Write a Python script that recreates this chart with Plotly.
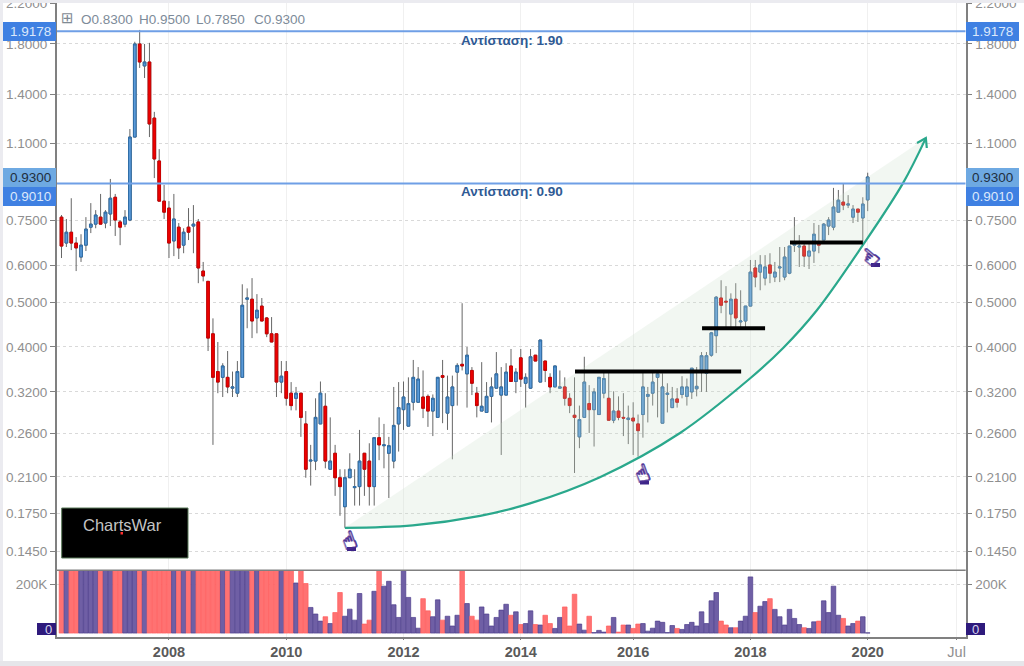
import math
import plotly.graph_objects as go

W, H = 1024, 666

months = list(range(166))
opens = [.762,.670,.707,.670,.625,.663,.725,.736,.762,.740,.774,.841,.744,.736,.751,1.134,1.80,1.614,1.646,1.246,1.007,.825,.797,.677,.725,.663,.725,.729,.744,.583,
 .554,.427,.354,.344,.344,.326,.318,.344,.507,.507,.462,.490,.462,.427,.427,.336,.354,.318,.310,.318,.273,.227,.227,.273,.298,.218,.236,.209,.181,.209,
 .199,.200,.236,.227,.200,.255,.245,.236,.227,.273,.293,.270,.304,.304,.312,.313,.291,.282,.347,.288,.299,.353,.367,.350,.356,.318,.291,.289,.313,.326,
 .315,.315,.364,.337,.379,.334,.326,.384,.336,.373,.344,.328,.326,.328,.310,.285,.256,.282,.302,.293,.286,.318,.310,.278,.291,.282,.279,.281,.273,.286,
 .313,.318,.344,.274,.316,.296,.309,.316,.313,.320,.325,.353,.351,.384,.423,.510,.502,.471,.507,.453,.455,.490,.592,.580,.563,.601,.566,.592,.566,.577,
 .663,.657,.660,.628,.644,.673,.680,.729,.725,.781,.821,.809,.762,.793,.759,.83]
closes = [.660,.707,.670,.654,.663,.718,.736,.770,.736,.781,.837,.751,.725,.762,1.134,1.80,1.646,1.646,1.21,1.017,.825,.781,.670,.755,.654,.707,.707,.736,.592,.569,
 .418,.344,.336,.364,.328,.328,.354,.492,.510,.455,.480,.455,.427,.410,.336,.346,.310,.299,.318,.282,.218,.228,.282,.318,.227,.227,.209,.200,.209,.218,
 .200,.227,.218,.200,.255,.246,.246,.245,.271,.296,.312,.302,.344,.341,.295,.291,.310,.344,.344,.312,.328,.365,.364,.384,.334,.299,.298,.313,.328,.350,
 .328,.353,.337,.353,.341,.344,.381,.373,.414,.356,.328,.364,.328,.310,.299,.282,.279,.336,.293,.320,.344,.342,.278,.291,.282,.281,.281,.277,.264,.328,
 .316,.336,.350,.328,.318,.309,.304,.328,.328,.360,.329,.383,.383,.429,.512,.492,.500,.507,.462,.455,.490,.580,.566,.601,.595,.577,.580,.595,.625,.660,
 .670,.660,.628,.644,.700,.663,.736,.751,.801,.829,.809,.813,.793,.781,.813,.93]
highs = [.770,.755,.837,.690,.700,.762,.817,.789,.855,.789,.921,.855,.751,.789,1.18,1.82,1.93,1.80,1.81,1.285,1.068,.894,.825,.855,.740,.721,.797,.809,.755,.610,
 .554,.461,.410,.369,.392,.354,.373,.546,.535,.563,.520,.510,.464,.464,.427,.373,.373,.336,.328,.318,.291,.246,.310,.337,.318,.282,.246,.218,.218,.236,
 .218,.265,.236,.248,.255,.282,.273,.256,.328,.336,.337,.344,.375,.362,.356,.316,.316,.344,.375,.347,.347,.369,.497,.400,.362,.328,.371,.336,.344,.390,
 .362,.369,.396,.360,.396,.351,.396,.384,.414,.373,.351,.364,.356,.344,.318,.344,.299,.381,.331,.326,.344,.353,.353,.321,.313,.318,.299,.304,.286,.353,
 .328,.353,.353,.351,.334,.328,.326,.346,.342,.360,.362,.390,.390,.431,.515,.557,.541,.522,.549,.530,.490,.616,.616,.631,.631,.637,.610,.657,.657,.660,
 .762,.697,.670,.667,.740,.733,.740,.762,.881,.872,.902,.850,.809,.793,.841,.95]
lows = [.622,.657,.647,.583,.610,.644,.704,.721,.736,.721,.729,.694,.663,.725,.747,1.134,1.598,1.52,1.134,.925,.825,.755,.622,.628,.619,.637,.680,.637,.549,.554,
 .392,.246,.318,.312,.318,.312,.312,.344,.439,.418,.428,.455,.420,.410,.312,.318,.299,.292,.292,.256,.209,.201,.217,.273,.219,.218,.191,.173,.163,.209,
 .182,.182,.191,.182,.182,.228,.219,.189,.219,.238,.265,.270,.292,.304,.281,.269,.257,.282,.274,.265,.229,.299,.356,.296,.315,.282,.291,.289,.275,.326,
 .234,.315,.337,.318,.328,.296,.325,.373,.336,.336,.318,.328,.326,.299,.288,.214,.242,.282,.261,.244,.286,.310,.278,.274,.278,.257,.247,.234,.232,.255,
 .275,.299,.282,.274,.289,.296,.296,.310,.299,.309,.313,.320,.320,.381,.388,.473,.441,.441,.441,.441,.441,.490,.538,.530,.543,.549,.552,.552,.557,.574,
 .641,.595,.595,.589,.607,.637,.680,.697,.714,.781,.789,.797,.740,.744,.663,.785]
volumes = [300]*38 + [252]*1 + [300]*9 + [205,300,203,105,78,49,67,39,84,166,69,98,53,162,37,53,171,300,192,212,116,64,300,146,64,20,141,91,67,136,53,69,29,73,300,121,69,53,107,78,29,64,94,118,73,87,35,39,91,35,33,73,39,19,64,107,29,159,37,12,69,2,11,4,29,64,4,33,33,19,37,39,8,20,49,44,2,31,19,
 15,35,44,29,87,39,132,166,49,33,22,22,49,69,230,84,110,129,141,97,67,33,97,60,35,22,19,46,49,132,84,192,73,60,29,39,49,67,1]

year_ticks = [22, 46, 70, 94, 117, 141, 165, 183.2]
year_labels = ["2008", "2010", "2012", "2014", "2016", "2018", "2020", "Jul"]
price_ticks = [2.2, 1.8, 1.4, 1.1, 0.75, 0.6, 0.5, 0.4, 0.32, 0.26, 0.21, 0.175, 0.145]

curve_x = [58.0, 71.9, 85.7, 95.9, 110.2, 126.6, 140.9, 147.7, 154.6, 164.0, 172.2, 176.9]
curve_y = [.163, .165, .173, .184, .2096, .261, .342, .398, .480, .663, .901, 1.128]
arrow_x = [175.1, 176.9, 177.1]
arrow_y = [1.101, 1.128, 1.074]
support_x = [[105.1, 139.1], [131.1, 144.0], [149.1, 164.0]]
support_y = [.354, .439, .672]
resist = [1.9178, 0.9010]

BLUE, BLUE_L = "#5b9ad8", "#2f6ea8"
RED, RED_L = "#ee0000", "#cc0000"
WICK = "#666666"
AXIS = "#808080"
TICKC = "#8f8f8f"
FONT = "Liberation Sans"

fig = go.Figure()

# wicks
fig.add_trace(go.Candlestick(x=months, open=opens, high=highs, low=lows, close=closes,
    increasing=dict(line=dict(color=WICK, width=1), fillcolor=WICK),
    decreasing=dict(line=dict(color=WICK, width=1), fillcolor=WICK),
    whiskerwidth=0, showlegend=False, hoverinfo="skip"))
# bodies
fig.add_trace(go.Candlestick(x=months, open=opens, close=closes,
    high=[max(o, c) for o, c in zip(opens, closes)],
    low=[min(o, c) for o, c in zip(opens, closes)],
    increasing=dict(line=dict(color=BLUE_L, width=1), fillcolor=BLUE),
    decreasing=dict(line=dict(color=RED_L, width=1), fillcolor=RED),
    whiskerwidth=0, showlegend=False, hoverinfo="skip"))

# right-hand price axis carrier
fig.add_trace(go.Scatter(x=months, y=closes, yaxis="y3", mode="lines",
    line=dict(width=0), opacity=0, showlegend=False, hoverinfo="skip"))

# curved channel
fig.add_trace(go.Scatter(x=curve_x, y=curve_y, mode="lines", fill="toself",
    fillcolor="rgba(205,225,205,0.25)", line=dict(color="#2aa88c", width=2.2, shape="spline", smoothing=1.0),
    showlegend=False, hoverinfo="skip"))
fig.add_trace(go.Scatter(x=arrow_x, y=arrow_y, mode="lines", line=dict(color="#2aa88c", width=2.2),
    showlegend=False, hoverinfo="skip"))

# support bars
for xs, yv in zip(support_x, support_y):
    fig.add_trace(go.Scatter(x=xs, y=[yv, yv], mode="lines", line=dict(color="#000000", width=4),
        showlegend=False, hoverinfo="skip"))

# resistance lines
for r in resist:
    fig.add_trace(go.Scatter(x=[-0.98, 185.06], y=[r, r], mode="lines", line=dict(color="#6f9fe6", width=2),
        showlegend=False, hoverinfo="skip"))

# volume
vol_colors = ["#6f5fa5" if c >= o else "#ff7272" for o, c in zip(opens, closes)]
vol_lines = ["#4d3d8c" if c >= o else "#ff5c5c" for o, c in zip(opens, closes)]
fig.add_trace(go.Bar(x=months, y=[v * 1000 for v in volumes], yaxis="y2", width=0.94,
    marker=dict(color=vol_colors, line=dict(color=vol_lines, width=0.7)),
    showlegend=False, hoverinfo="skip"))
fig.add_trace(go.Scatter(x=months, y=[v * 1000 for v in volumes], yaxis="y4", mode="lines",
    line=dict(width=0), opacity=0, showlegend=False, hoverinfo="skip"))


def px(x):
    return x / W


def py(y):
    return 1 - y / H


shapes = []


def rect(x0, y0, x1, y1, fill, line=None, lw=0):
    shapes.append(dict(type="rect", xref="paper", yref="paper", x0=px(x0), x1=px(x1), y0=py(y0), y1=py(y1),
                       fillcolor=fill, line=dict(color=line or fill, width=lw), layer="above"))


rect(0, 0, W, 3, "#ebebf0")
rect(0, 0, 3, H, "#ebebf0")
rect(0, 661, W, H, "#e6e6ea")
shapes.append(dict(type="line", xref="paper", yref="paper", x0=px(56.7), x1=px(965.7), y0=py(570.3), y1=py(570.3),
                   line=dict(color=AXIS, width=1.5), layer="above"))
for x0, x1 in [(3, 56), (966, 1019)]:
    rect(x0, 22, x1, 41, "#3f80e2")
    rect(x0, 168, x1, 187, "#6ea9e2")
    rect(x0, 187, x1, 206, "#3f80e2")
rect(37, 623, 56, 635, "#2e1a7c")
rect(966, 623, 985, 635, "#2e1a7c")
rect(61.7, 508, 188, 558, "#000000", "#5a7a5a", 1)
rect(120.5, 532, 123, 534.5, "#ff3030")
for cx, cy in [(351.5, 549), (644.5, 482.5), (875.5, 265)]:
    rect(cx - 4.5, cy - 2, cx + 4.5, cy + 2, "#3d2488")

anns = []


def note(x, y, text, color, size=14, font=FONT, anchor="center", angle=0, bold=False, shadow=None):
    f = dict(family=font, size=size, color=color)
    if shadow:
        f["shadow"] = shadow
    anns.append(dict(xref="paper", yref="paper", x=px(x), y=py(y), text=f"<b>{text}</b>" if bold else text,
                     showarrow=False, xanchor=anchor, yanchor="middle", textangle=angle, font=f))


for cx in (30, 992):
    note(cx, 31.5, "1.9178", "#dbe8fb", 13.5)
    note(cx, 177.5, "0.9300", "#1f2f40", 13.5)
    note(cx, 196.5, "0.9010", "#dbe8fb", 13.5)
note(48, 629.5, "0", "#d8d4ee", 13)
note(975.5, 629.5, "0", "#d8d4ee", 13)
note(512, 40.5, "Αντίσταση: 1.90", "#2f5a94", 13.5, bold=True)
note(512, 192, "Αντίσταση: 0.90", "#2f5a94", 13.5, bold=True)
note(67.5, 18, "⊞", "#7f8a94", 15, font="DejaVu Sans")
for x, t in [(79, "O0.8300"), (137, "H0.9500"), (194, "L0.7850"), (252, "C0.9300")]:
    note(x, 20, t, "#7d8b99", 13.5, anchor="left")
note(122, 525, "ChartsWar", "#c4c4c4", 16.5)
hand_stroke = "0.7px 0 #4b2e93, -0.7px 0 #4b2e93, 0 0.7px #4b2e93, 0 -0.7px #4b2e93"
for x, y, ang in [(349, 541, -20), (642, 474, -20), (870, 258, -50)]:
    note(x, y, "☝", "#4b2e93", 24, font="DejaVu Sans", angle=ang, shadow=hand_stroke)

ticktext = [f'<b><span style="color:#5a5a5a">{t}</span></b>' if t != "Jul" else t for t in year_labels]
log_range = [math.log10(0.132), math.log10(2.206)]
price_dom = [(H - 570.3) / H, (H - 3) / H]
vol_dom = [(H - 637) / H, (H - 570.3) / H]
vol_range = [-16000, 257000]
ticks_font = dict(family=FONT, size=13.5, color=TICKC)

fig.update_layout(
    width=W, height=H, margin=dict(l=0, r=0, t=0, b=0, autoexpand=False), paper_bgcolor="#ffffff", plot_bgcolor="#ffffff",
    boxgap=0.22, barmode="overlay", showlegend=False, hovermode=False, shapes=shapes, annotations=anns,
    xaxis=dict(domain=[56.7 / W, 965.7 / W], range=[-0.98, 185.06], anchor="y2", tickmode="array",
               tickvals=year_ticks, ticktext=ticktext, tickfont=dict(family=FONT, size=14.5, color="#8f8f8f"),
               ticks="outside", ticklen=1, tickcolor=AXIS, showgrid=True, gridcolor="#f0f0f0", gridwidth=1,
               showline=True, linecolor=AXIS, linewidth=1.5, rangeslider=dict(visible=False), zeroline=False),
    yaxis=dict(domain=price_dom, type="log", range=log_range, anchor="x", side="left", tickmode="array",
               tickvals=price_ticks, ticktext=[f"{t:.4f}" for t in price_ticks], tickfont=ticks_font,
               ticklabeloverflow="allow", ticks="outside", ticklen=5, tickcolor=AXIS, showgrid=True,
               gridcolor="#d9d9d9", griddash="dot", gridwidth=1, showline=True, linecolor=AXIS, linewidth=1.5,
               zeroline=False),
    yaxis3=dict(type="log", range=log_range, overlaying="y", anchor="x", side="right", tickmode="array",
                tickvals=price_ticks, ticktext=[f"{t:.4f}" for t in price_ticks], tickfont=ticks_font,
                ticklabeloverflow="allow", ticks="outside", ticklen=5, tickcolor=AXIS, showgrid=False, showline=True,
                linecolor=AXIS, linewidth=1.5, zeroline=False),
    yaxis2=dict(domain=vol_dom, range=vol_range, anchor="x", side="left", tickmode="array", tickvals=[200000],
                ticktext=["200K"], tickfont=ticks_font, ticks="outside", ticklen=5, tickcolor=AXIS, showgrid=True,
                gridcolor="#d9d9d9", griddash="dot", showline=True, linecolor=AXIS, linewidth=1.5, zeroline=False),
    yaxis4=dict(range=vol_range, overlaying="y2", anchor="x", side="right", tickmode="array", tickvals=[200000],
                ticktext=["200K"], tickfont=ticks_font, ticks="outside", ticklen=5, tickcolor=AXIS, showgrid=False,
                showline=True, linecolor=AXIS, linewidth=1.5, zeroline=False),
)

fig.write_html("out.html", config=dict(displayModeBar=False), post_script="document.body.style.margin='0';")
